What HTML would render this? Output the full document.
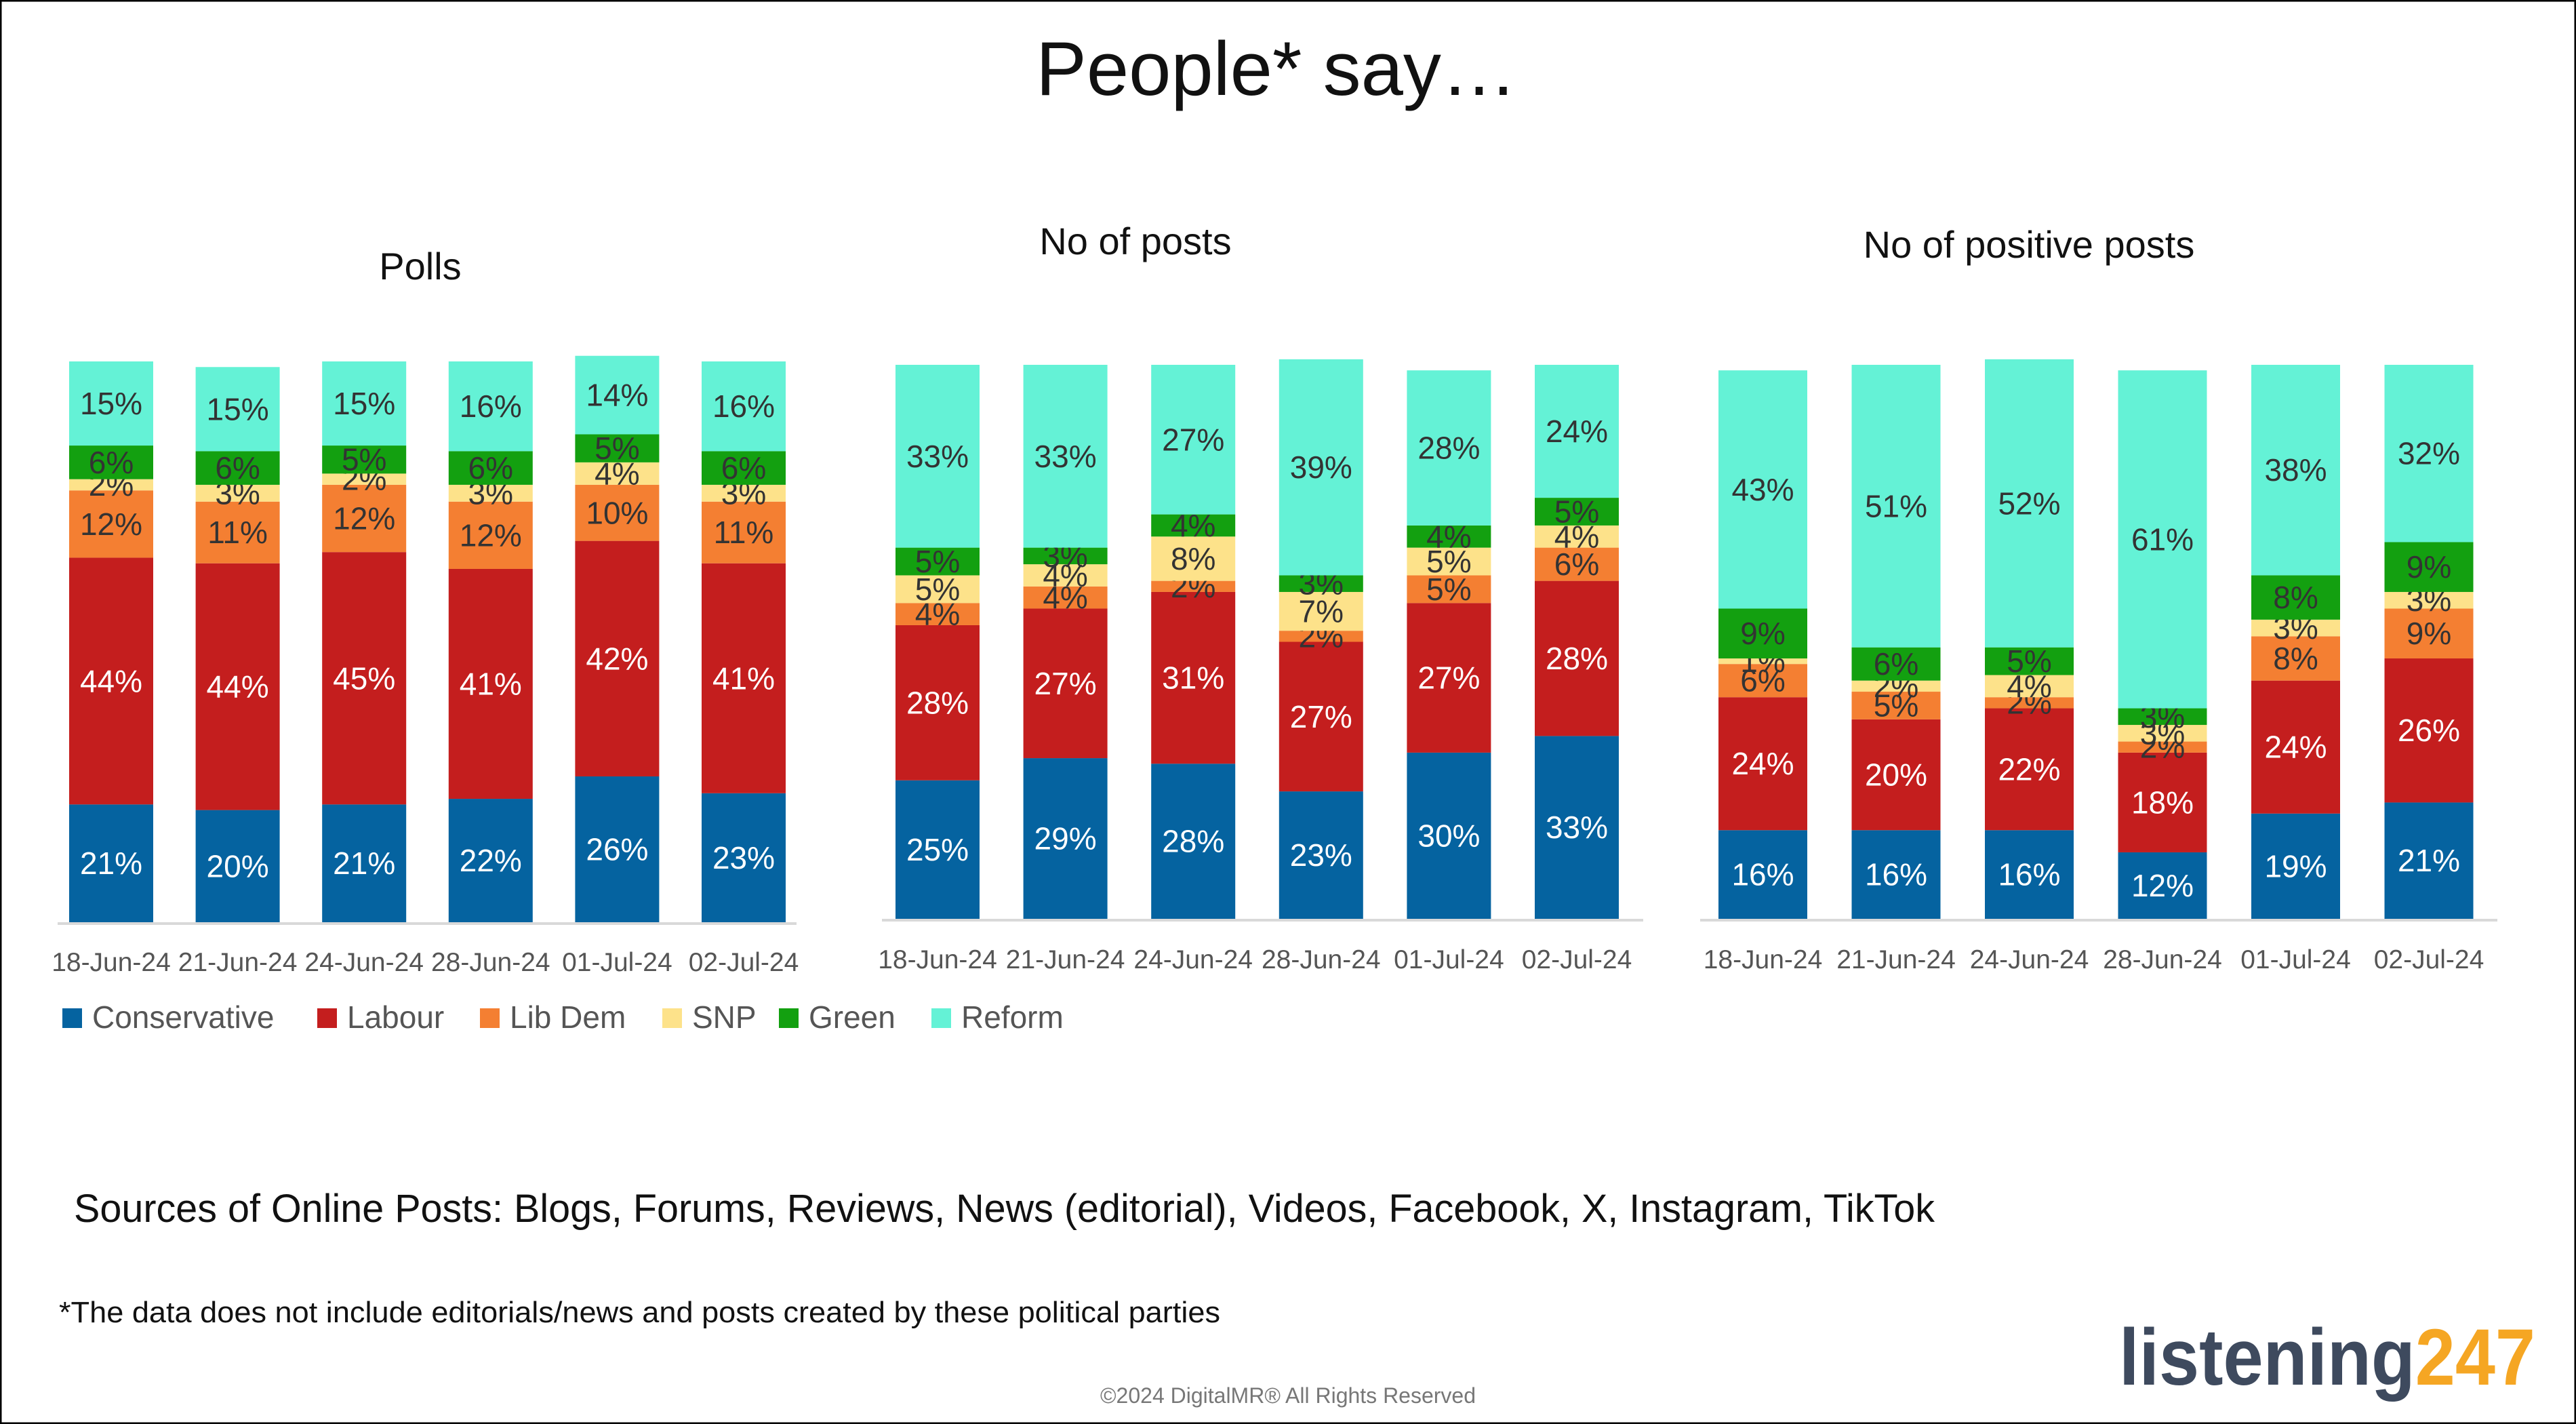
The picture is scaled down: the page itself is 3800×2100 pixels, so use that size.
<!DOCTYPE html>
<html><head><meta charset="utf-8"><style>
html,body{margin:0;padding:0;background:#fff;}
svg{display:block;font-family:"Liberation Sans",sans-serif;}
</style></head><body>
<svg id="s" width="3800" height="2100" viewBox="0 0 3800 2100" xmlns="http://www.w3.org/2000/svg">
<rect x="1" y="1" width="3798" height="2098" fill="#fff" stroke="#000" stroke-width="3"/>
<text x="1883" y="140" font-size="112" text-anchor="middle" fill="#111">People* say…</text>
<text x="109" y="1802" font-size="58" fill="#111" textLength="2745" lengthAdjust="spacingAndGlyphs">Sources of Online Posts: Blogs, Forums, Reviews, News (editorial), Videos, Facebook, X, Instagram, TikTok</text>
<text x="87" y="1950" font-size="44" fill="#111" textLength="1713" lengthAdjust="spacingAndGlyphs">*The data does not include editorials/news and posts created by these political parties</text>
<text x="1900" y="2069" font-size="32" fill="#777" text-anchor="middle">©2024 DigitalMR® All Rights Reserved</text>
<text x="3126" y="2042" font-size="118" font-weight="bold" textLength="614" lengthAdjust="spacingAndGlyphs"><tspan fill="#3e4a5e">listening</tspan><tspan fill="#f5a623">247</tspan></text>
<g id="charts"></g>
</svg>
<script>
const dates = ["18-Jun-24","21-Jun-24","24-Jun-24","28-Jun-24","01-Jul-24","02-Jul-24"];
const parties = ["Conservative","Labour","Lib Dem","SNP","Green","Reform"];
const pollsCon = [21,20,21,22,26,23];
const pollsLab = [44,44,45,41,42,41];
const pollsLD = [12,11,12,12,10,11];
const pollsSNP = [2,3,2,3,4,3];
const pollsGrn = [6,6,5,6,5,6];
const pollsRef = [15,15,15,16,14,16];
const postsCon = [25,29,28,23,30,33];
const postsLab = [28,27,31,27,27,28];
const postsLD = [4,4,2,2,5,6];
const postsSNP = [5,4,8,7,5,4];
const postsGrn = [5,3,4,3,4,5];
const postsRef = [33,33,27,39,28,24];
const posCon = [16,16,16,12,19,21];
const posLab = [24,20,22,18,24,26];
const posLD = [6,5,2,2,8,9];
const posSNP = [1,2,4,3,3,3];
const posGrn = [9,6,5,3,8,9];
const posRef = [43,51,52,61,38,32];

const colors = ["#0563a0","#c41e1e","#f47f32","#fde28a","#13a010","#64f2d6"];
const labelColors = ["#fff","#fff","#333","#333","#333","#333"];
const NS = "http://www.w3.org/2000/svg";
const root = document.getElementById('charts');
function mk(tag, attrs, parent){const e=document.createElementNS(NS,tag);for(const k in attrs)e.setAttribute(k,attrs[k]);(parent||root).appendChild(e);return e;}

const charts = [
 {key:"polls", title:"Polls", tx:620, ty:412, x0:102, pitch:186.6, bw:124, top:533, base:1360, ax0:85, ax1:1175, ly:1432,
  series:[pollsCon,pollsLab,pollsLD,pollsSNP,pollsGrn,pollsRef]},
 {key:"posts", title:"No of posts", tx:1675, ty:375, x0:1321, pitch:188.6, bw:124, top:538, base:1355, ax0:1301, ax1:2424, ly:1428,
  series:[postsCon,postsLab,postsLD,postsSNP,postsGrn,postsRef]},
 {key:"positive-posts", title:"No of positive posts", tx:2993, ty:380, x0:2535, pitch:196.5, bw:131, top:538, base:1355, ax0:2508, ax1:3684, ly:1428,
  series:[posCon,posLab,posLD,posSNP,posGrn,posRef]}
];

charts.forEach(c=>{
  const g = mk('g',{});
  
  
  const t = mk('text',{x:c.tx,y:c.ty,'font-size':56,'text-anchor':'middle',fill:'#111'},g);
  t.textContent = c.title;
  
  
  const yScale = v => (c.base - c.top) * v / 100;
  const xPos = i => c.x0 + i*c.pitch;
  dates.forEach((d,i)=>{
    let acc = 0;
    c.series.forEach((arr,si)=>{
      const v = arr[i];
      const h = yScale(v);
      const y = c.base - yScale(acc) - h;
      const r = mk('rect',{x:xPos(i),y:y,width:c.bw,height:h,fill:colors[si]},g);
      
      
      const lt = mk('text',{x:xPos(i)+c.bw/2,y:y+h/2+16,'font-size':46,'text-anchor':'middle',fill:labelColors[si]},g);
      lt.textContent = v+'%';
      
      
      acc += v;
    });
    const xl = mk('text',{x:xPos(i)+c.bw/2,y:c.ly,'font-size':39,'text-anchor':'middle',fill:'#555'},g);
    xl.textContent = d;
    
    
  });
  const ax = mk('line',{x1:c.ax0,x2:c.ax1,y1:c.base+2,y2:c.base+2,stroke:'#d9d9d9','stroke-width':4},g);
  
  
});

const legendX = [92,468,708,977,1149,1374];
const lg = mk('g',{});


parties.forEach((p,i)=>{
  const sq = mk('rect',{x:legendX[i],y:1487,width:29,height:29,fill:colors[i]},lg);
  
  
  const lt = mk('text',{x:legendX[i]+44,y:1516,'font-size':46,fill:'#555'},lg);
  lt.textContent = p;
  
  
});
</script>
</body></html>
